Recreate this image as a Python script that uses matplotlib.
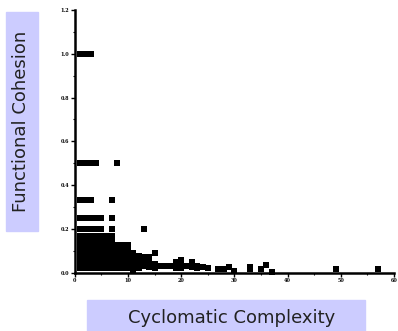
import matplotlib
matplotlib.use("Agg")
import matplotlib.pyplot as plt
from matplotlib.patches import Rectangle
from matplotlib.ticker import MultipleLocator

# dense block of small cohesion values shared by the low-complexity modules
low_col = [0.143, 0.125, 0.111, 0.1, 0.091, 0.083, 0.077, 0.071, 0.067, 0.0625,
           0.059, 0.056, 0.05, 0.045, 0.04, 0.036, 0.033, 0.03, 0.025, 0.02]

# (complexity, cohesion)
upper_x = [1, 2, 3, 1, 2, 3, 4, 8, 1, 2, 3, 7, 1, 2, 3, 4, 5, 7,
           1, 2, 3, 4, 5, 7, 13, 1, 2, 3, 4, 5, 6, 7]
upper_y = [1.0, 1.0, 1.0, 0.5, 0.5, 0.5, 0.5, 0.5, 0.333, 0.333, 0.333, 0.333,
           0.25, 0.25, 0.25, 0.25, 0.25, 0.25, 0.2, 0.2, 0.2, 0.2, 0.2, 0.2, 0.2,
           0.167, 0.167, 0.167, 0.167, 0.167, 0.167, 0.167]
block_x = [1, 2, 3, 4, 5, 6, 7]

mid_x = [8, 8, 8, 8, 8, 8, 8, 8, 8, 8,
         9, 9, 9, 9, 9, 9, 9,
         10, 10, 10, 10, 10, 10,
         11, 11, 11, 11, 11,
         12, 12, 12, 12,
         13, 13, 13, 14, 14, 14, 15, 15, 15,
         16, 17, 18, 19, 19, 20, 20, 20, 21, 22, 22, 23, 23, 24, 25]
mid_y = [0.125, 0.111, 0.1, 0.083, 0.071, 0.0625, 0.05, 0.04, 0.03, 0.02,
         0.125, 0.1, 0.083, 0.067, 0.05, 0.03, 0.02,
         0.125, 0.1, 0.083, 0.059, 0.04, 0.02,
         0.091, 0.071, 0.05, 0.03, 0.01,
         0.077, 0.063, 0.04, 0.02,
         0.071, 0.05, 0.03, 0.071, 0.045, 0.025, 0.09, 0.04, 0.02,
         0.03, 0.03, 0.03, 0.05, 0.02, 0.06, 0.04, 0.02, 0.03, 0.05, 0.025,
         0.03, 0.02, 0.025, 0.02]

tail_x = [27, 28, 29, 30, 33, 33, 35, 36, 37, 49, 57]
tail_y = [0.017, 0.017, 0.026, 0.007, 0.025, 0.018, 0.017, 0.035, 0.005, 0.017, 0.017]

x_ticks = [0, 10, 20, 30, 40, 50, 60]
y_ticks = [0.0, 0.2, 0.4, 0.6, 0.8, 1.0, 1.2]

xs = list(upper_x)
ys = list(upper_y)
for bx in block_x:
    for v in low_col:
        xs.append(bx)
        ys.append(v)
xs += mid_x + tail_x
ys += mid_y + tail_y

fig = plt.figure(figsize=(3.98, 3.31), dpi=100)
ax = fig.add_axes([0.188, 0.176, 0.802, 0.794])
ax.scatter(xs, ys, marker='s', s=13, color='black', linewidths=0, clip_on=False)

ax.set_xlim(0, 60)
ax.set_ylim(0, 1.2)
ax.set_xticks(x_ticks)
ax.set_yticks(y_ticks)
ax.set_xticklabels([str(t) for t in x_ticks])
ax.set_yticklabels(["%.1f" % t for t in y_ticks])
ax.xaxis.set_minor_locator(MultipleLocator(5))
ax.yaxis.set_minor_locator(MultipleLocator(0.1))
ax.tick_params(which='major', length=3, width=1, pad=1, labelsize=3.5)
ax.tick_params(which='minor', length=1.5, width=0.8)
for lab in ax.get_xticklabels() + ax.get_yticklabels():
    lab.set_fontweight('bold')
    lab.set_family('serif')
for s in ['top', 'right']:
    ax.spines[s].set_visible(False)
ax.spines['left'].set_linewidth(1.8)
ax.spines['bottom'].set_linewidth(1.8)

lav = '#ccccff'
# y label box
fig.patches.append(Rectangle((6 / 398, 1 - 231 / 331), 32 / 398, 219 / 331,
                             transform=fig.transFigure, color=lav, zorder=0))
fig.text(21 / 398, 1 - 121.5 / 331, "Functional Cohesion", rotation=90,
         ha='center', va='center', fontsize=13, color='#222222')
# x label box
fig.patches.append(Rectangle((87 / 398, 0), 278 / 398, 31 / 331,
                             transform=fig.transFigure, color=lav, zorder=0))
fig.text(232 / 398, 8 / 331, "Cyclomatic Complexity",
         ha='center', va='baseline', fontsize=13, color='#222222')

fig.savefig("out.png", dpi=100)
